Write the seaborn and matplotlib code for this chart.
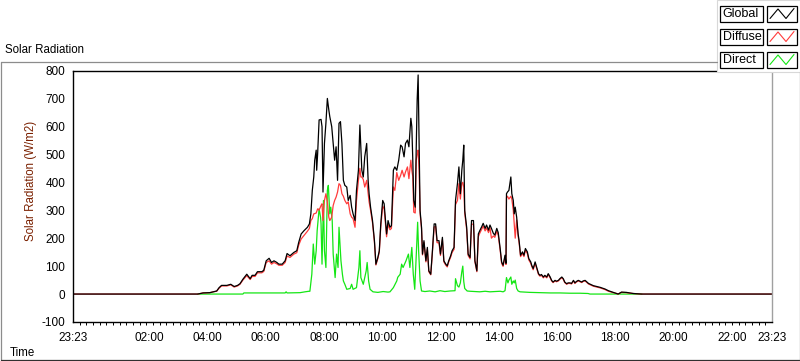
import numpy as np
import matplotlib
matplotlib.use("Agg")
import matplotlib.pyplot as plt
import seaborn as sns
from matplotlib.patches import Rectangle
from matplotlib.lines import Line2D

# time axis in minutes after midnight; chart runs 23:23 (prev day) -> 23:23
times_min = [
    -37, 220, 231, 245, 252, 259, 264, 269, 280, 288, 295, 302, 307, 313, 321, 328,
    332, 338, 343, 352, 356, 361, 367, 372, 377, 383, 387, 394, 400, 404, 410, 418,
    424, 428, 433, 439, 446, 450, 453, 456, 459, 461, 464, 465, 467, 470, 474, 476,
    478, 481, 484, 487, 490, 492, 496, 499, 502, 505, 508, 511, 514, 517, 520, 523,
    527, 530, 534, 537, 540, 544, 547, 551, 554, 556, 558, 561, 564, 568, 571, 573,
    576, 580, 584, 587, 591, 594, 597, 601, 604, 609, 612, 616, 619, 623, 626, 630,
    634, 638, 641, 645, 648, 652, 655, 659, 661, 663, 665, 668, 670, 672, 674, 676,
    678, 681, 683, 686, 690, 693, 696, 700, 703, 707, 710, 713, 717, 720, 724, 727,
    731, 734, 737, 741, 744, 748, 751, 755, 758, 761, 764, 766, 768, 770, 774, 777,
    781, 784, 788, 791, 795, 798, 801, 805, 808, 812, 815, 819, 822, 825, 829, 832,
    836, 839, 843, 846, 849, 853, 855, 856, 858, 861, 865, 867, 870, 872, 874, 877,
    880, 882, 885, 889, 892, 895, 899, 902, 906, 908, 911, 915, 918, 922, 925, 928,
    932, 935, 939, 942, 946, 949, 952, 956, 959, 963, 966, 970, 973, 976, 980, 983,
    987, 990, 994, 997, 1000, 1004, 1011, 1014, 1018, 1025, 1035, 1049, 1059, 1066, 1076, 1083,
    1086, 1093, 1103, 1110, 1117, 1134, 1403,
]
global_wm2 = [
    0, 0, 4, 5, 8, 11, 23, 31, 31, 35, 27, 31, 37, 53, 71, 55,
    67, 67, 80, 80, 85, 119, 128, 113, 119, 113, 107, 107, 119, 145, 137, 149,
    155, 185, 215, 227, 239, 251, 287, 371, 419, 479, 515, 443, 503, 623, 625, 599,
    365, 539, 611, 700, 659, 635, 599, 539, 479, 527, 407, 611, 617, 539, 407, 389,
    383, 335, 353, 311, 287, 263, 371, 443, 605, 527, 443, 419, 491, 539, 407, 359,
    311, 263, 191, 107, 131, 155, 251, 335, 323, 215, 263, 239, 245, 443, 455, 443,
    479, 533, 527, 491, 539, 551, 527, 629, 599, 479, 335, 311, 515, 695, 784, 527,
    299, 239, 143, 191, 119, 167, 83, 71, 143, 251, 251, 191, 191, 143, 203, 119,
    107, 101, 119, 137, 155, 167, 335, 395, 455, 359, 443, 479, 533, 299, 239, 143,
    131, 263, 263, 119, 83, 215, 227, 241, 253, 235, 247, 229, 247, 235, 217, 211,
    235, 220, 163, 115, 103, 139, 110, 359, 365, 371, 419, 359, 335, 287, 311, 275,
    215, 191, 139, 151, 139, 163, 151, 127, 115, 103, 91, 115, 97, 73, 67, 70,
    61, 67, 61, 73, 61, 49, 43, 49, 46, 49, 55, 61, 55, 43, 37, 40,
    40, 38, 49, 40, 45, 49, 43, 47, 49, 38, 30, 24, 18, 12, 6, 2,
    0, 7, 6, 4, 2, 0, 0,
]
diffuse_wm2 = [
    0, 0, 4, 5, 8, 10, 21, 29, 29, 33, 25, 29, 35, 50, 66, 52,
    63, 63, 76, 76, 81, 113, 119, 107, 113, 108, 103, 103, 113, 136, 131, 143,
    148, 175, 197, 210, 225, 235, 263, 270, 287, 288, 290, 295, 305, 300, 317, 323,
    263, 335, 359, 330, 275, 263, 275, 317, 335, 347, 365, 395, 389, 359, 350, 335,
    323, 330, 287, 275, 270, 239, 335, 407, 450, 419, 419, 410, 383, 407, 359, 330,
    300, 255, 185, 104, 127, 150, 240, 315, 305, 205, 250, 230, 235, 383, 371, 435,
    407, 425, 443, 419, 437, 455, 413, 479, 443, 420, 293, 290, 479, 500, 515, 443,
    290, 233, 140, 185, 115, 160, 80, 69, 138, 240, 242, 184, 183, 138, 195, 115,
    103, 97, 115, 132, 149, 160, 320, 335, 395, 340, 395, 400, 383, 290, 230, 138,
    126, 250, 250, 115, 80, 205, 218, 232, 243, 226, 237, 220, 237, 200, 208, 203,
    225, 211, 157, 110, 99, 133, 106, 345, 350, 340, 350, 340, 300, 250, 200, 265,
    207, 184, 134, 145, 134, 157, 145, 122, 110, 99, 87, 110, 93, 70, 64, 67,
    58, 64, 58, 70, 58, 47, 41, 47, 44, 47, 53, 58, 53, 41, 35, 38,
    38, 36, 47, 38, 43, 47, 41, 45, 47, 36, 28, 22, 16, 10, 5, 2,
    0, 6, 5, 3, 2, 0, 0,
]
direct_times = [
    220, 313, 315, 400, 402, 404, 431, 441, 449, 451, 455, 458, 461, 464, 466, 470,
    473, 474, 476, 479, 481, 484, 487, 489, 492, 494, 497, 499, 503, 506, 509, 511,
    515, 518, 520, 523, 527, 534, 537, 540, 547, 552, 554, 556, 561, 567, 569, 572,
    575, 581, 591, 602, 612, 616, 623, 630, 632, 637, 640, 643, 649, 654, 657, 661,
    664, 667, 671, 673, 675, 678, 681, 688, 698, 709, 719, 729, 740, 750, 751, 755,
    758, 761, 764, 766, 768, 770, 775, 781, 791, 801, 812, 822, 832, 843, 849, 853,
    856, 859, 861, 865, 867, 870, 872, 874, 877, 880, 884, 894, 904, 925, 946, 966,
    987, 1007, 1024, 1028, 1135,
]
direct_wm2 = [
    0, 0, 4, 4, 8, 4, 5, 8, 10, 10, 71, 179, 107, 155, 227, 305,
    275, 251, 107, 335, 155, 95, 371, 389, 287, 311, 263, 143, 59, 143, 95, 239,
    119, 71, 47, 35, 17, 20, 35, 17, 23, 95, 155, 59, 35, 83, 113, 47,
    17, 8, 6, 9, 7, 8, 23, 47, 60, 71, 107, 95, 119, 143, 95, 167,
    71, 17, 173, 257, 155, 47, 11, 9, 11, 8, 12, 9, 11, 12, 55, 30,
    25, 40, 80, 100, 45, 20, 11, 10, 9, 8, 10, 8, 9, 10, 8, 12,
    59, 40, 50, 61, 35, 47, 40, 50, 20, 11, 8, 7, 6, 5, 4, 4,
    3, 3, 2, 0, 0,
]

x_tick_pos = [-37, 120, 240, 360, 480, 600, 720, 840, 960, 1080, 1200, 1320, 1403]
x_tick_labels = ["23:23", "02:00", "04:00", "06:00", "08:00", "10:00", "12:00",
                 "14:00", "16:00", "18:00", "20:00", "22:00", "23:23"]
y_ticks = [-100, 0, 100, 200, 300, 400, 500, 600, 700, 800]
series_names = ["Global", "Diffuse", "Direct"]
series_colors = ["#000000", "#ff3b3b", "#14e614"]

W, H = 800, 361


def fx(x):
    return x / W


def fy(y):
    return 1 - y / H


sns.set_theme(style="white")
plt.rcParams["font.family"] = ["Liberation Sans", "DejaVu Sans"]

fig = plt.figure(figsize=(8, 3.61), dpi=100)
fig.patch.set_facecolor("white")
ax = fig.add_axes([fx(73), fy(322), (772 - 73) / W, (322 - 70.5) / H])

# green underneath, black on top
sns.lineplot(x=direct_times, y=direct_wm2, color=series_colors[2], lw=0.9,
             estimator=None, sort=False, ax=ax)
sns.lineplot(x=times_min, y=diffuse_wm2, color=series_colors[1], lw=0.9,
             estimator=None, sort=False, ax=ax)
sns.lineplot(x=times_min, y=global_wm2, color=series_colors[0], lw=0.9,
             estimator=None, sort=False, ax=ax)

ax.set_xlim(-37, 1403)
ax.set_ylim(-100, 800)
ax.set_xticks(x_tick_pos)
ax.set_xticklabels(x_tick_labels)
ax.set_xticks(np.arange(-37, 1403, 1440 / 105), minor=True)
ax.set_yticks(y_ticks)
ax.set_yticklabels([str(v) for v in y_ticks])
ax.tick_params(axis="both", which="major", direction="out", length=3.6, width=0.8,
               color="black", labelsize=8.5, labelcolor="black", pad=2)
ax.tick_params(axis="x", which="major", pad=3.5)
ax.tick_params(axis="x", which="minor", direction="out", length=2.2, width=0.7,
               color="black", bottom=True)
ax.set_xlabel("")
ax.set_ylabel("")
for side in ["left", "bottom", "top"]:
    ax.spines[side].set_color("black")
    ax.spines[side].set_linewidth(1.0)
ax.spines["right"].set_color("#a0a0a0")
ax.spines["right"].set_linewidth(1.0)
ax.set_facecolor("white")

fig.text(fx(5), fy(50), "Solar Radiation", ha="left", va="center", fontsize=8.3, color="black")
fig.text(fx(31), fy(181), "Solar Radiation (W/m2)", ha="center", va="center",
         rotation=90, fontsize=8.3, color="#7a2000")
fig.text(fx(10), fy(353), "Time", ha="left", va="center", fontsize=8.3, color="black")

# outer panel frame
frame = [((0.5, 61.5), (717, 61.5), "#8c8c8c"),
         ((0.5, 61.5), (0.5, 359.5), "#8c8c8c"),
         ((0.5, 359.5), (799.5, 359.5), "#303030"),
         ((799.5, 72), (799.5, 359.5), "#8c8c8c")]
for (x0, y0), (x1, y1), c in frame:
    fig.add_artist(Line2D([fx(x0), fx(x1)], [fy(y0), fy(y1)], color=c, lw=0.9,
                          transform=fig.transFigure))

# legend panel
fig.add_artist(Rectangle((fx(717), fy(72)), (800 - 717) / W, 72 / H, facecolor="white",
                         edgecolor="#d8d8d8", lw=0.8, transform=fig.transFigure))
row_tops = [6, 29, 52]
for name, color, top in zip(series_names, series_colors, row_tops):
    h = 15.5
    fig.add_artist(Rectangle((fx(720), fy(top + h)), 43 / W, h / H, facecolor="white",
                             edgecolor="black", lw=0.9, transform=fig.transFigure))
    fig.text(fx(722.5), fy(top + h / 2), name, ha="left", va="center", fontsize=9,
             color="black")
    fig.add_artist(Rectangle((fx(767), fy(top + h)), 30 / W, h / H, facecolor="white",
                             edgecolor="black", lw=0.9, transform=fig.transFigure))
    zx = [770, 778, 786, 794]
    zy = [top + h - 3, top + 3, top + h - 3, top + 2.5]
    fig.add_artist(Line2D([fx(v) for v in zx], [fy(v) for v in zy], color=color, lw=0.8,
                          transform=fig.transFigure))

fig.savefig("out.png", dpi=100, facecolor="white")
